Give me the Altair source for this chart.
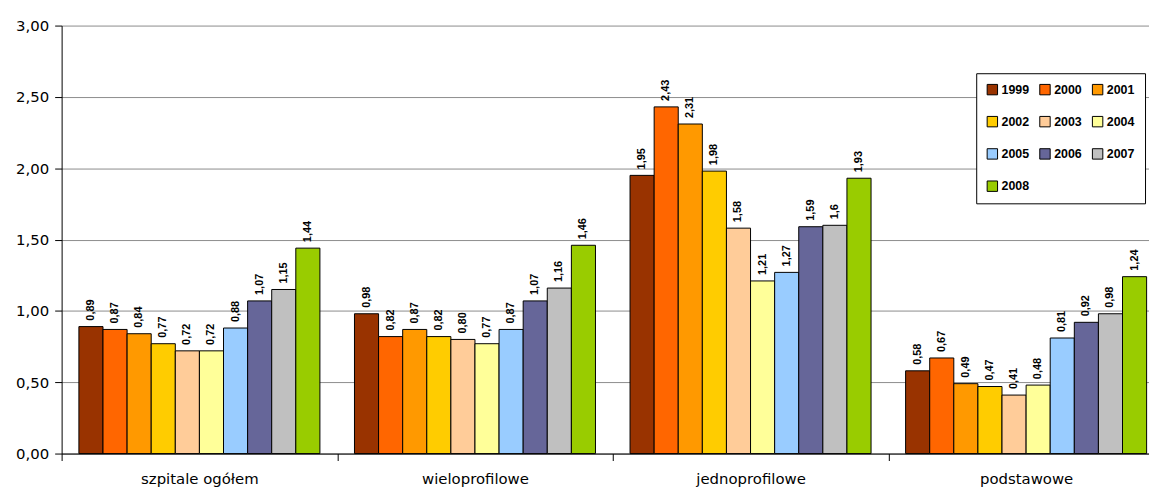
import altair as alt
import pandas as pd

categories = ["szpitale ogółem", "wieloprofilowe", "jednoprofilowe", "podstawowe"]
years = ["1999", "2000", "2001", "2002", "2003", "2004", "2005", "2006", "2007", "2008"]
colors = ["#993300", "#FF6600", "#FF9900", "#FFCC00", "#FFCC99",
          "#FFFF99", "#99CCFF", "#666699", "#C0C0C0", "#99CC00"]

szpitale_ogolem = ["0,89", "0,87", "0,84", "0,77", "0,72", "0,72", "0,88", "1,07", "1,15", "1,44"]
wieloprofilowe = ["0,98", "0,82", "0,87", "0,82", "0,80", "0,77", "0,87", "1,07", "1,16", "1,46"]
jednoprofilowe = ["1,95", "2,43", "2,31", "1,98", "1,58", "1,21", "1,27", "1,59", "1,6", "1,93"]
podstawowe = ["0,58", "0,67", "0,49", "0,47", "0,41", "0,48", "0,81", "0,92", "0,98", "1,24"]

y_ticks = [0, 0.5, 1.0, 1.5, 2.0, 2.5, 3.0]

series = [szpitale_ogolem, wieloprofilowe, jednoprofilowe, podstawowe]
rows = []
for cat, vals in zip(categories, series):
    for yr, v in zip(years, vals):
        rows.append({"kategoria": cat, "rok": yr,
                     "wartosc": float(v.replace(",", ".")), "etykieta": v})
df = pd.DataFrame(rows)

FONT = "Liberation Sans"
AXFONT = "DejaVu Sans"

base = alt.Chart(df).encode(
    x=alt.X("kategoria:N", sort=categories,
            scale=alt.Scale(paddingInner=0, paddingOuter=0),
            axis=alt.Axis(title=None, labelAngle=0, tickBand="extent", tickSize=7,
                          labelPadding=23, labelBaseline="alphabetic",
                          labelFontSize=15, labelFont=AXFONT,
                          labelColor="black", domainColor="black", tickColor="black",
                          grid=False)),
    xOffset=alt.XOffset("rok:N", sort=years,
                        scale=alt.Scale(paddingInner=0, paddingOuter=0.717)),
    y=alt.Y("wartosc:Q", scale=alt.Scale(domain=[0, 3], nice=False),
            axis=alt.Axis(title=None, values=y_ticks, tickSize=7, labelPadding=6,
                          labelFontSize=15, labelFont=AXFONT, labelColor="black",
                          labelExpr="replace(format(datum.value, '.2f'), '.', ',')",
                          domainColor="black", tickColor="black",
                          gridColor="#8c8c8c", gridWidth=1)),
)

bars = base.mark_bar(stroke="black", strokeWidth=1, opacity=1).encode(
    color=alt.Color("rok:N", scale=alt.Scale(domain=years, range=colors),
                    legend=alt.Legend(orient="none", legendX=921, legendY=48,
                                      direction="horizontal",
                                      columns=3, title=None, symbolType="square",
                                      symbolSize=110, symbolStrokeColor="black",
                                      symbolStrokeWidth=1, symbolOpacity=1,
                                      labelFontSize=12.5, labelFontWeight="bold",
                                      labelFont=FONT, labelColor="black",
                                      strokeColor="black", fillColor="white",
                                      padding=10, rowPadding=17.5, columnPadding=8,
                                      labelOffset=3, gridAlign="all")),
)

texts = base.mark_text(angle=270, align="left", baseline="middle", dx=6,
                       fontSize=11, fontWeight="bold", font=FONT, color="black").encode(
    text="etykieta:N"
)

chart = alt.layer(bars, texts).properties(
    width=1110, height=431,
    autosize=alt.AutoSizeParams(type="none"),
    padding={"left": 54, "top": 16, "right": -15, "bottom": 35},
).configure_view(stroke=None).configure_axis(gridColor="#8c8c8c")

chart.save("out.html", embed_options={"renderer": "svg", "actions": False})
